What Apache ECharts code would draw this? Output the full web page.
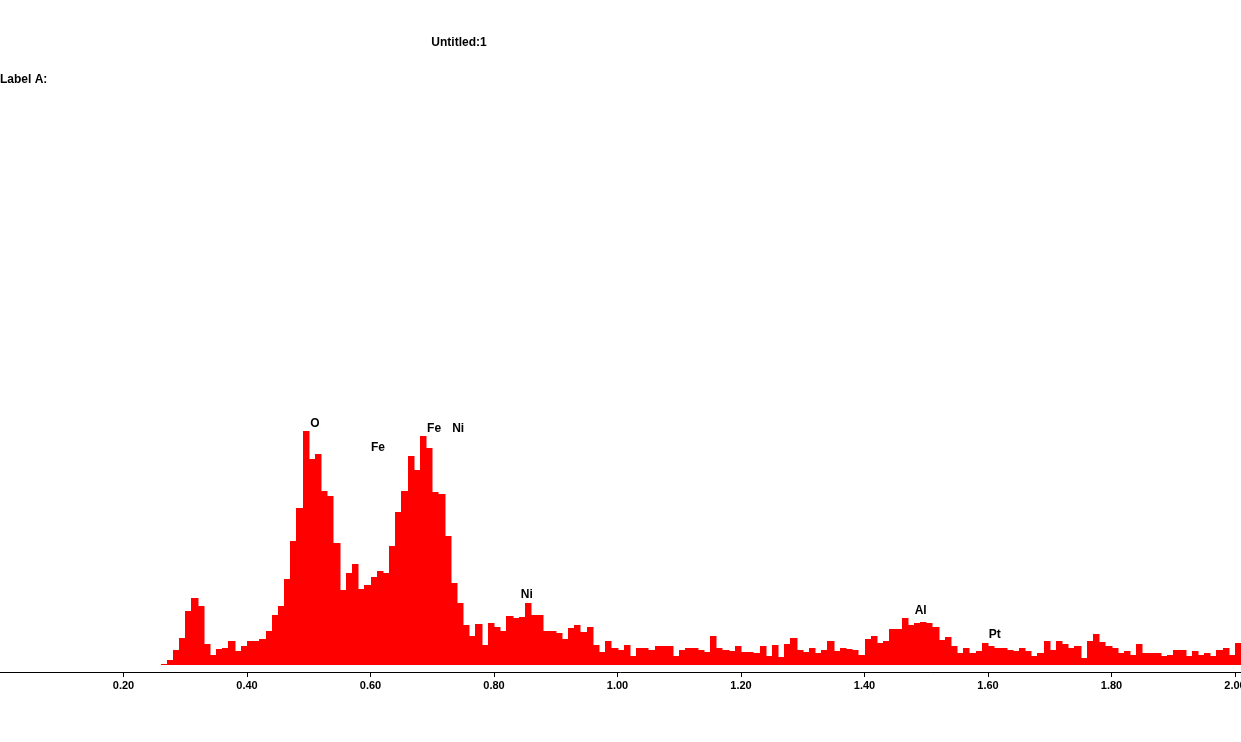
<!DOCTYPE html>
<html><head><meta charset="utf-8">
<script src="https://cdn.jsdelivr.net/npm/echarts@6/dist/echarts.min.js"></script>
<style>html,body{margin:0;padding:0;background:#fff}#c{width:1241px;height:742px}</style>
</head><body><div id="c"></div>
<script>
var startEnergy = 0.26;
var step = 0.01;
var counts = [
1,5,15,27,54,67,59,21,10,16,17,24,14,19,24,24,26,34,50,59,
86,124,157,234,206,211,174,169,122,75,92,101,76,80,88,94,92,119,153,174,
209,195,229,217,173,171,129,82,62,40,
29,41,20,42,38,34,49,47,48,62,50,50,34,34,32,26,37,40,33,38,
20,13,24,17,15,20,9,17,17,15,19,19,19,9,15,17,17,15,13,29,
17,15,14,19,13,13,12,19,9,20,8,21,27,15,13,17,12,15,24,14,
17,16,15,10,26,29,22,24,36,36,47,40,42,43,42,38,25,28,19,12,
17,12,14,22,19,17,17,15,14,17,14,9,12,24,15,24,21,17,19,7,
24,31,23,19,17,12,14,10,21,12,12,12,9,10,15,15,9,14,10,12,
9,15,17,10,22
];
var peakNames = ['O','Fe','Fe','Ni','Ni','Al','Pt'];
var peakX = [0.510,0.612,0.703,0.742,0.853,1.491,1.611];
var peakY = [241,217,236,236,70,54,30];

var barData = counts.map(function(v,i){return [+(startEnergy+i*step).toFixed(2), v];});
var font = 'Liberation Sans';
var chart = echarts.init(document.getElementById('c'));
chart.setOption({
  animation:false,
  textStyle:{fontFamily:font},
  graphic:[
    {type:'text',left:0,top:74,style:{text:'Label A:',font:'bold 12px "Liberation Sans"',fill:'#000'}},
    {type:'text',x:459,y:37,style:{text:'Untitled:1',font:'bold 12px "Liberation Sans"',fill:'#000',align:'center'}}
  ],
  grid:{left:0,right:0,top:100,bottom:70,containLabel:false,outerBoundsMode:'none'},
  xAxis:{type:'value',min:0,max:2.0097,interval:0.2,
    axisLine:{show:true,onZero:false,lineStyle:{color:'#000',width:1}},
    axisTick:{show:true,length:5,lineStyle:{color:'#000'}},
    axisLabel:{formatter:function(v){return v===0?'':v.toFixed(2);},color:'#000',fontWeight:'bold',fontSize:11,margin:8,showMaxLabel:false,showMinLabel:false},
    splitLine:{show:false}},
  yAxis:{type:'value',min:-7,max:565,show:false,splitLine:{show:false}},
  series:[
    {type:'custom',data:barData,renderItem:function(params,api){
      var x=api.value(0), y=api.value(1);
      var p0=api.coord([x,y]); var p1=api.coord([x+step,0]);
      var l=Math.round(p0[0]), r=Math.round(p1[0]);
      return {type:'rect',shape:{x:l,y:Math.round(p0[1]),width:r-l+0.5,height:Math.round(p1[1])-Math.round(p0[1])},style:{fill:'#ff0000'}};
    },encode:{x:0,y:1}},
    {type:'custom',data:peakNames.map(function(n,i){return [peakX[i],peakY[i],i];}),
      renderItem:function(params,api){
        var p=api.coord([api.value(0),api.value(1)]);
        return {type:'text',x:p[0],y:p[1],style:{text:peakNames[api.value(2)],fill:'#000',font:'bold 12px "Liberation Sans"',align:'center',verticalAlign:'middle'}};
      },encode:{x:0,y:1}}
  ]
});
</script></body></html>
